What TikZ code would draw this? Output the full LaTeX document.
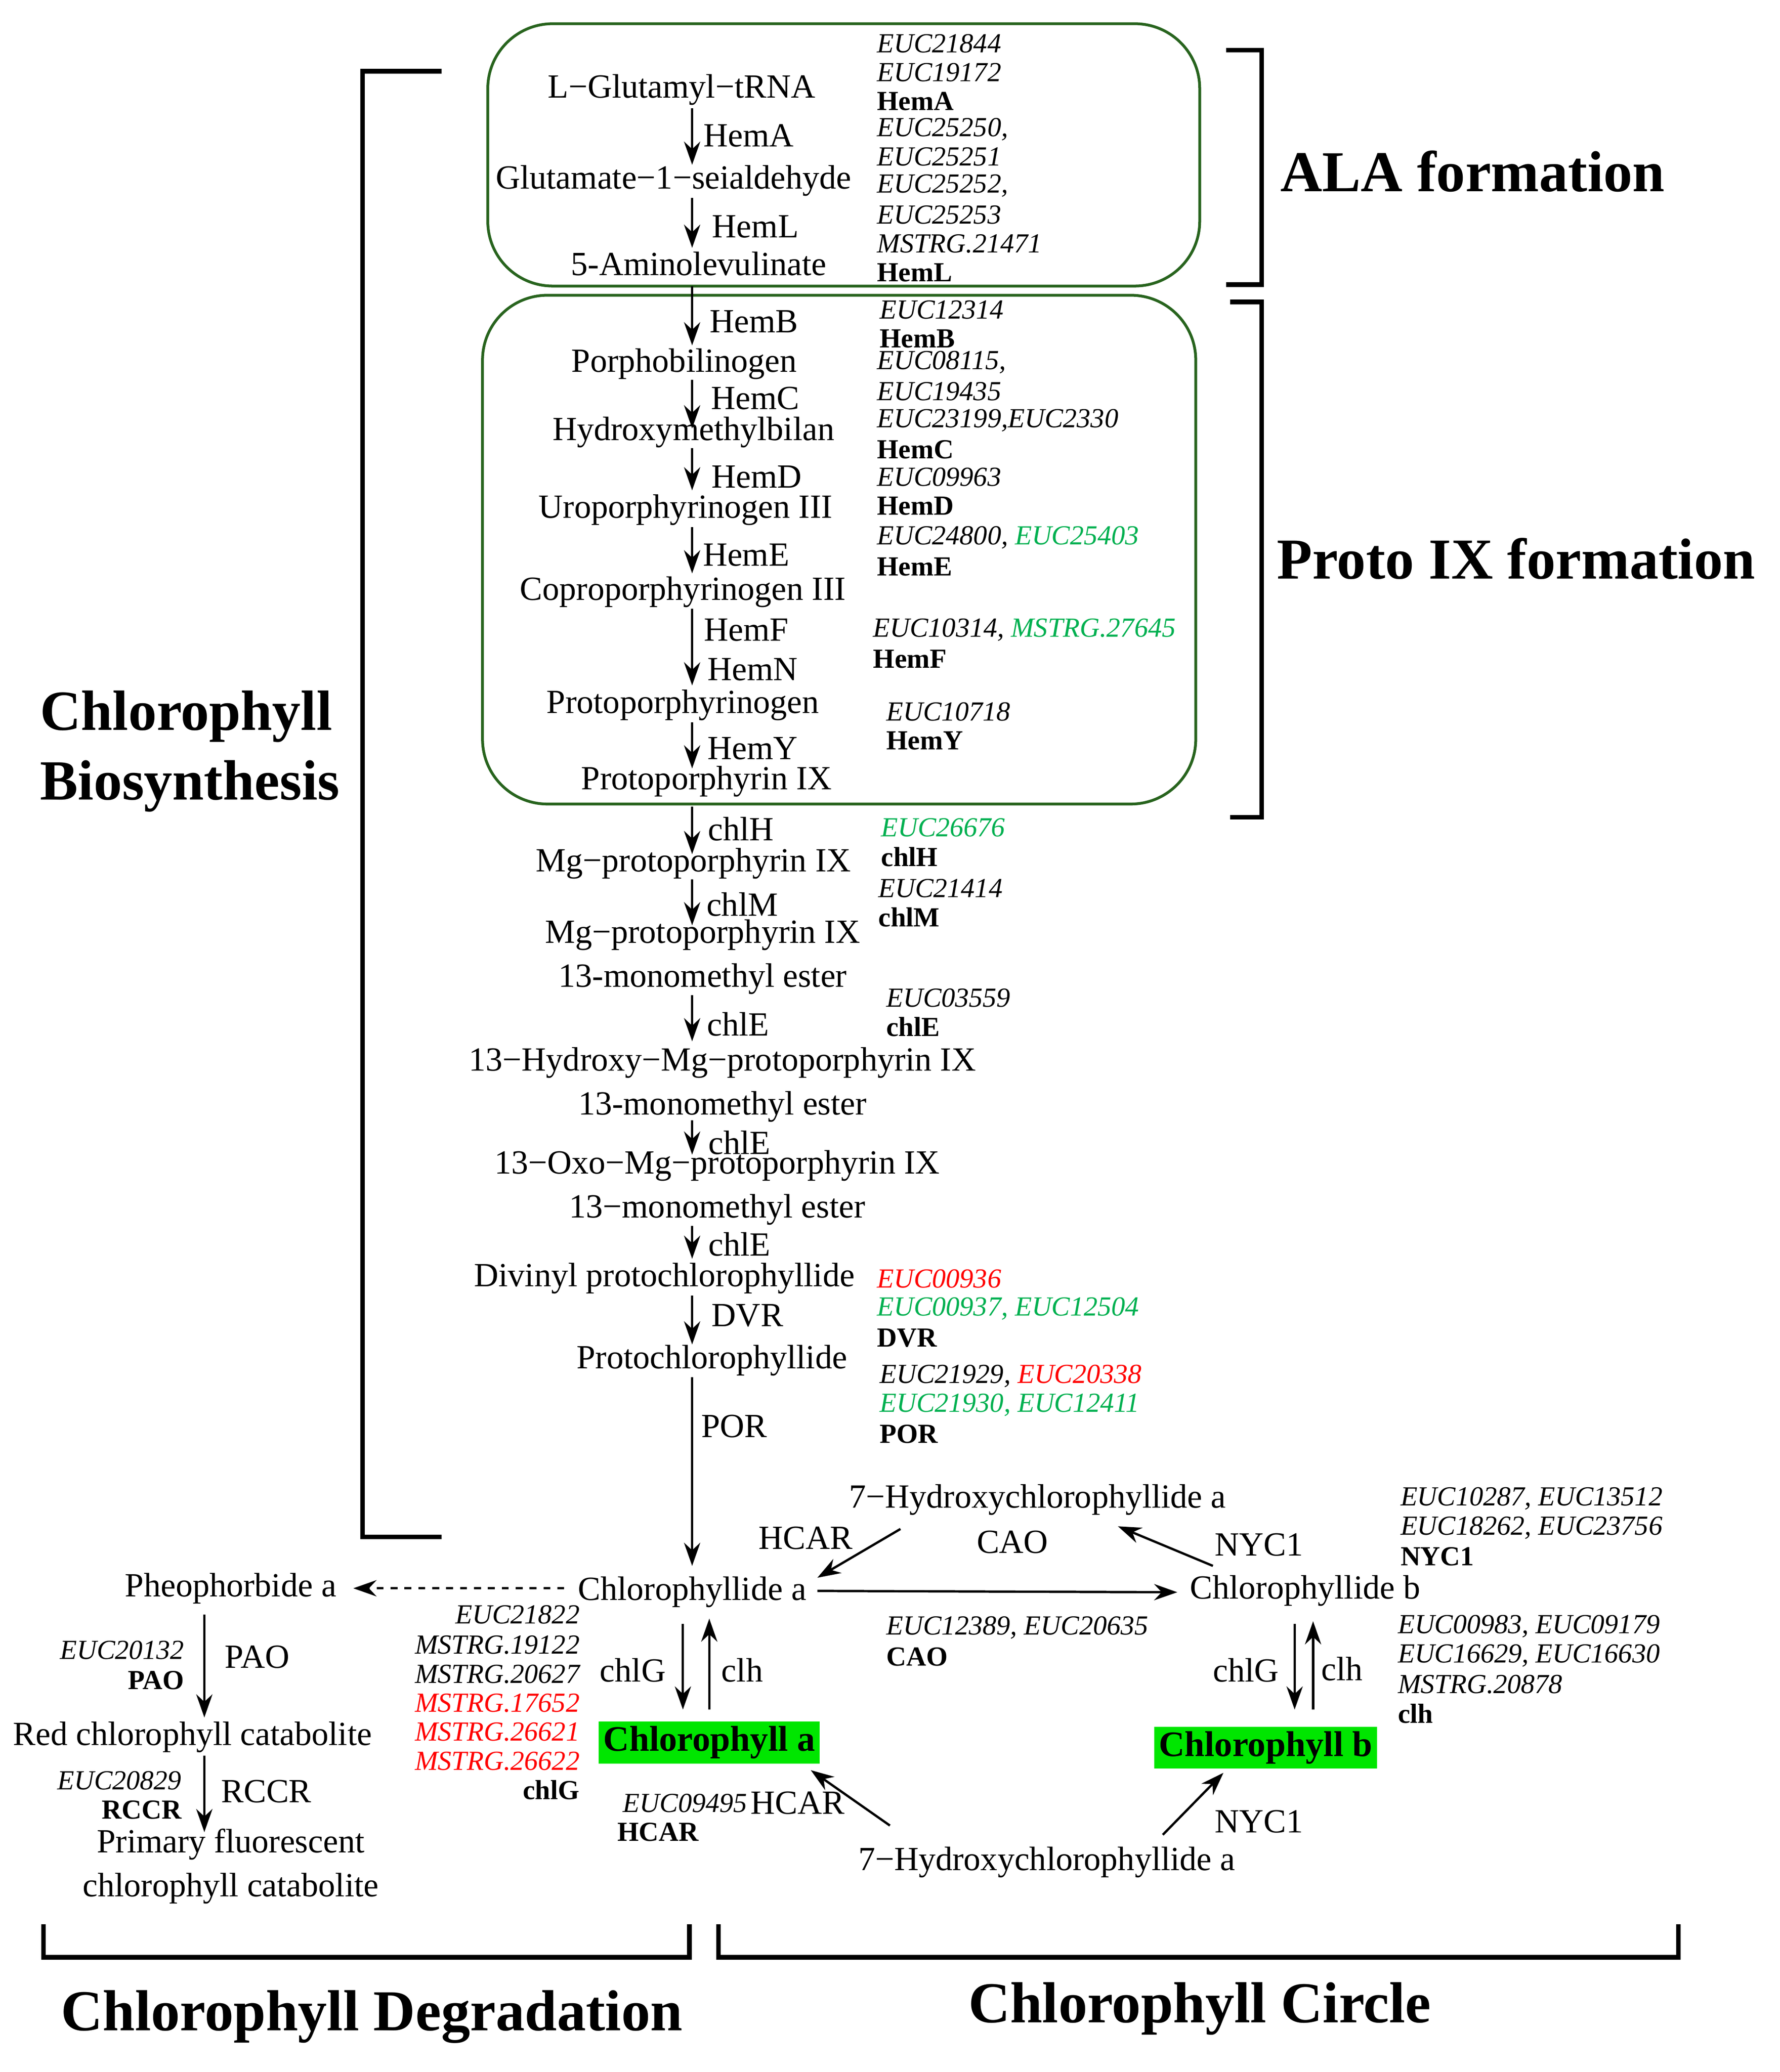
\documentclass[tikz,border=0pt]{standalone}
\usepackage{fontspec}
\setmainfont{Liberation Serif}
\usetikzlibrary{arrows.meta}
\definecolor{gtxt}{RGB}{0,176,80}
\definecolor{rtxt}{RGB}{255,0,0}
\definecolor{boxg}{RGB}{40,100,30}
\definecolor{hl}{RGB}{0,230,0}
\begin{document}
\begin{tikzpicture}[x=0.02cm,y=-0.02cm,
 m/.style={font=\fontsize{14.6}{16}\selectfont,inner sep=0pt},
 g/.style={font=\fontsize{11.9}{13}\selectfont\itshape,inner sep=0pt,anchor=west},
 gr/.style={g,anchor=east},
 gb/.style={font=\fontsize{11.9}{13}\selectfont\bfseries,inner sep=0pt,anchor=west},
 gbr/.style={gb,anchor=east},
 h/.style={font=\fontsize{25}{28}\selectfont\bfseries,inner sep=0pt},
 ar/.style={-{Stealth[length=10pt,width=7pt]},line width=1pt},
 br/.style={line width=2pt},
 gbox/.style={draw=boxg,line width=1.2pt,rounded corners=28pt}]
\useasboundingbox (0,0) rectangle (1350,1572);
% boxes
\draw[gbox] (370,18) rectangle (910,217);
\draw[gbox] (366,224) rectangle (907,610);
% brackets
\draw[br] (335,54) -- (275,54) -- (275,1166) -- (335,1166);
\draw[br] (930,38) -- (957,38) -- (957,216) -- (930,216);
\draw[br] (933,229) -- (957,229) -- (957,620) -- (933,620);
\draw[br] (33,1460) -- (33,1485) -- (523,1485) -- (523,1460);
\draw[br] (545,1460) -- (545,1485) -- (1273,1485) -- (1273,1460);
% headings
\node[h] (hala) at (1117,130) {ALA formation};
\node[h] (hpro) at (1150,424) {Proto IX formation};
\node[h,align=left,font=\fontsize{24.5}{30}\selectfont\bfseries] (hbio) at (144,570) {Chlorophyll\\Biosynthesis};
\node[h] (hdeg) at (282,1530) {Chlorophyll Degradation};
\node[h] (hcir) at (910,1524) {Chlorophyll Circle};
% main chain
\node[m] (a1) at (517,68) {L−Glutamyl−tRNA};
\node[m] (a2) at (511,137) {Glutamate−1−seialdehyde};
\node[m] (a3) at (530,200) {5-Aminolevulinate};
\node[m] (a4) at (519,276) {Porphobilinogen};
\node[m] (a5) at (526,328) {Hydroxymethylbilan};
\node[m] (a6) at (520,387) {Uroporphyrinogen III};
\node[m] (a7) at (518,449) {Coproporphyrinogen III};
\node[m] (a8) at (518,535) {Protoporphyrinogen};
\node[m] (a9) at (536,593) {Protoporphyrin IX};
\node[m] (a10) at (526,655) {Mg−protoporphyrin IX};
\node[m,align=center] (a11) at (533,726) {Mg−protoporphyrin IX\\[3pt]13-monomethyl ester};
\node[m,align=center] (a12) at (548,823) {13−Hydroxy−Mg−protoporphyrin IX\\[3pt]13-monomethyl ester};
\node[m,align=center] (a13) at (544,901) {13−Oxo−Mg−protoporphyrin IX\\[3pt]13−monomethyl ester};
\node[m] (a14) at (504,970) {Divinyl protochlorophyllide};
\node[m] (a15) at (540,1032) {Protochlorophyllide};
\node[m] (a16) at (525,1208) {Chlorophyllide a};
\foreach \ya/\yb in {82/125,150/188,217/262,288/325,340/372,400/435,462/520,548/583,612/648,667/702,755/790,850/876,930/955,983/1020,1045/1188}
 \draw[ar] (525,\ya) -- (525,\yb);
\node[m] (lA) at (568,103) {HemA};
\node[m] (lL) at (573,172) {HemL};
\node[m] (lB) at (572,244) {HemB};
\node[m] (lC) at (573,302) {HemC};
\node[m] (lD) at (574,362) {HemD};
\node[m] (lE) at (566,421) {HemE};
\node[m] (lF) at (566,478) {HemF};
\node[m] (lN) at (571,508) {HemN};
\node[m] (lY) at (571,568) {HemY};
\node[m] (lH) at (562,629) {chlH};
\node[m] (lM) at (563,686) {chlM};
\node[m] (lE1) at (560,777) {chlE};
\node[m] (lE2) at (561,867) {chlE};
\node[m] (lE3) at (561,944) {chlE};
\node[m] (lDVR) at (567,998) {DVR};
\node[m] (lPOR) at (557,1082) {POR};
% gene lists
\node[g] at (665,33) {EUC21844};
\node[g] at (665,55) {EUC19172};
\node[gb] at (665,77) {HemA};
\node[g] at (665,98) {EUC25250,};
\node[g] at (665,119) {EUC25251};
\node[g] at (665,141) {EUC25252,};
\node[g] at (665,163) {EUC25253};
\node[g] at (665,185) {MSTRG.21471};
\node[gb] at (665,207) {HemL};
\node[g] at (667,235) {EUC12314};
\node[gb] at (667,257) {HemB};
\node[g] at (665,275) {EUC08115,};
\node[g] at (665,297) {EUC19435};
\node[g] at (665,319) {EUC23199,EUC2330};
\node[gb] at (665,341) {HemC};
\node[g] at (665,362) {EUC09963};
\node[gb] at (665,384) {HemD};
\node[g] at (665,408) {EUC24800, \textcolor{gtxt}{EUC25403}};
\node[gb] at (665,430) {HemE};
\node[g] at (662,478) {EUC10314, \textcolor{gtxt}{MSTRG.27645}};
\node[gb] at (662,500) {HemF};
\node[g] at (672,540) {EUC10718};
\node[gb] at (672,562) {HemY};
\node[g,text=gtxt] at (668,628) {EUC26676};
\node[gb] at (668,650) {chlH};
\node[g] at (666,674) {EUC21414};
\node[gb] at (666,696) {chlM};
\node[g] at (672,757) {EUC03559};
\node[gb] at (672,779) {chlE};
\node[g,text=rtxt] at (665,970) {EUC00936};
\node[g,text=gtxt] at (665,993) {EUC00937, EUC12504};
\node[gb] at (665,1015) {DVR};
\node[g] at (667,1044) {EUC21929, \textcolor{rtxt}{EUC20338}};
\node[g,text=gtxt] at (667,1066) {EUC21930, EUC12411};
\node[gb] at (667,1088) {POR};
% degradation
\node[m] (pheo) at (175,1205) {Pheophorbide a};
\draw[ar,dashed] (428,1205) -- (268,1205);
\node[m] (red) at (146,1318) {Red chlorophyll catabolite};
\draw[ar] (155,1225) -- (155,1303);
\node[m] at (195,1257) {PAO};
\node[gr] at (140,1252) {EUC20132};
\node[gbr] at (140,1275) {PAO};
\node[m,align=center] (pfc) at (175,1416) {Primary fluorescent\\[3pt]chlorophyll catabolite};
\draw[ar] (155,1332) -- (155,1390);
\node[m] at (202,1359) {RCCR};
\node[gr] at (138,1351) {EUC20829};
\node[gbr] at (138,1373) {RCCR};
% cycle
\draw[ar] (518,1232) -- (518,1297);
\draw[ar] (538,1297) -- (538,1228);
\node[m] at (480,1267) {chlG};
\node[m] at (563,1267) {clh};
\node[m,fill=hl,font=\fontsize{15.5}{17}\selectfont\bfseries,inner sep=2pt] (chla) at (538,1322) {Chlorophyll a};
\node[gr] at (440,1225) {EUC21822};
\node[gr] at (440,1248) {MSTRG.19122};
\node[gr] at (440,1270) {MSTRG.20627};
\node[gr,text=rtxt] at (440,1292) {MSTRG.17652};
\node[gr,text=rtxt] at (440,1314) {MSTRG.26621};
\node[gr,text=rtxt] at (440,1336) {MSTRG.26622};
\node[gbr] at (440,1358) {chlG};
\node[m] (cb) at (990,1207) {Chlorophyllide b};
\draw[ar] (620,1207) -- (893,1208);
\node[m] (h7a) at (787,1138) {7−Hydroxychlorophyllide a};
\draw[ar] (683,1160) -- (620,1197);
\node[m] at (611,1167) {HCAR};
\draw[ar] (920,1188) -- (848,1158);
\node[m] at (955,1172) {NYC1};
\node[m] at (768,1170) {CAO};
\node[g] at (672,1235) {EUC12389, EUC20635};
\node[gb] at (672,1257) {CAO};
\draw[ar] (982,1232) -- (982,1297);
\draw[ar] (996,1297) -- (996,1230);
\node[m] at (945,1267) {chlG};
\node[m] at (1018,1266) {clh};
\node[m,fill=hl,font=\fontsize{15.5}{17}\selectfont\bfseries,inner sep=2pt] (chlb) at (960,1326) {Chlorophyll b};
\node[m] (h7b) at (794,1413) {7−Hydroxychlorophyllide a};
\draw[ar] (675,1385) -- (615,1343);
\node[m] at (605,1368) {HCAR};
\node[gr] at (567,1368) {EUC09495};
\node[gb] at (468,1390) {HCAR};
\draw[ar] (882,1392) -- (928,1345);
\node[m] at (955,1382) {NYC1};
\node[g] at (1062,1137) {EUC10287, EUC13512};
\node[g] at (1062,1159) {EUC18262, EUC23756};
\node[gb] at (1062,1181) {NYC1};
\node[g] at (1060,1234) {EUC00983, EUC09179};
\node[g] at (1060,1256) {EUC16629, EUC16630};
\node[g] at (1060,1278) {MSTRG.20878};
\node[gb] at (1060,1300) {clh};
\end{tikzpicture}
\end{document}
